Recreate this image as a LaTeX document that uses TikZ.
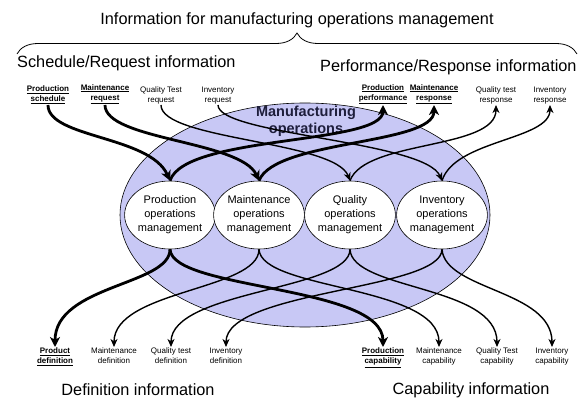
\documentclass[tikz,border=0pt]{standalone}
\usepackage{fontspec}
\setmainfont{Liberation Sans}
\usetikzlibrary{shapes.geometric,arrows.meta,decorations.pathreplacing}

\definecolor{mfgfill}{RGB}{200,200,245}
\definecolor{mfgtext}{RGB}{30,30,60}

\begin{document}
\begin{tikzpicture}[x=1pt,y=-1pt,
    big/.style={font=\fontsize{16.3}{18}\selectfont,inner sep=0pt},
    info/.style={font=\fontsize{8}{10}\selectfont,align=center,inner sep=1pt},
    func/.style={ellipse,draw,line width=0.6pt,fill=white,minimum width=82pt,minimum height=68pt,
      inner sep=0pt,align=center,font=\fontsize{11}{14}\selectfont},
    heavy/.style={line width=2.8pt,-{Stealth[length=10pt,width=10pt,inset=3pt]}},
    light/.style={line width=1.4pt,-{Stealth[length=8pt,width=7pt,inset=2.5pt]}}]
  \useasboundingbox (0,0) rectangle (579,404);

  % headings
  \node[big] (title) at (297,20) {Information for manufacturing operations management};
  \draw[line width=0.8pt,decorate,decoration={brace,amplitude=21pt}] (17,54) -- (577,54);
  \node[big,anchor=west] (schedinfo) at (17,63) {Schedule/Request information};
  \node[big,anchor=west] (perfinfo) at (320,67) {Performance/Response information};
  \node[big] (definfo) at (138,390) {Definition information};
  \node[big] (capinfo) at (471,390) {Capability information};

  % manufacturing operations
  \node[ellipse,draw,line width=0.6pt,fill=mfgfill,minimum width=370pt,minimum height=224pt,inner sep=0pt] (mfg) at (305,215) {};
  \node[font=\bfseries\fontsize{14.5}{17}\selectfont,text=mfgtext,align=center] (mfgname) at (306,121) {Manufacturing\\operations};

  \node[func] (pom) at (170,215) {Production\\operations\\management};
  \node[func] (mom) at (259,215) {Maintenance\\operations\\management};
  \node[func] (qom) at (350,215) {Quality\\operations\\management};
  \node[func] (iom) at (442,215) {Inventory\\operations\\management};

  % top labels
  \node[info,anchor=south] (psched) at (48,105) {\textbf{\underline{Production}}\\\textbf{\underline{schedule}}};
  \node[info,anchor=south] (mreq) at (105,105) {\textbf{\underline{Maintenance}}\\\textbf{\underline{request}}};
  \node[info,anchor=south] (qreq) at (161,105) {Quality Test\\request};
  \node[info,anchor=south] (ireq) at (218,105) {Inventory\\request};
  \node[info,anchor=south] (pperf) at (383,105) {\textbf{\underline{Production}}\\\textbf{\underline{performance}}};
  \node[info,anchor=south] (mresp) at (434,105) {\textbf{\underline{Maintenance}}\\\textbf{\underline{response}}};
  \node[info,anchor=south] (qresp) at (496,105) {Quality test\\response};
  \node[info,anchor=south] (iresp) at (550,105) {Inventory\\response};

  % bottom labels
  \node[info,anchor=north] (pdef) at (55,347) {\textbf{\underline{Product}}\\\textbf{\underline{definition}}};
  \node[info,anchor=north] (mdef) at (114,347) {Maintenance\\definition};
  \node[info,anchor=north] (qdef) at (171,347) {Quality test\\definition};
  \node[info,anchor=north] (idef) at (226,347) {Inventory\\definition};
  \node[info,anchor=north] (pcap) at (383,347) {\textbf{\underline{Production}}\\\textbf{\underline{capability}}};
  \node[info,anchor=north] (mcap) at (439,347) {Maintenance\\capability};
  \node[info,anchor=north] (qcap) at (497,347) {Quality Test\\capability};
  \node[info,anchor=north] (icap) at (552,347) {Inventory\\capability};

  % requests in
  \draw[heavy] (psched.south) .. controls +(0,33) and +(-20,-45) .. (pom.north);
  \draw[heavy] (mreq.south) .. controls +(0,35) and +(-18,-40) .. (mom.north);
  \draw[light] (qreq.south) .. controls +(0,35) and +(-15,-40) .. (qom.north);
  \draw[light] (ireq.south) .. controls +(0,30) and +(-17,-40) .. (iom.north);
  % responses out
  \draw[heavy] (pom.north) .. controls +(15,-46) and +(0,40) .. (pperf.south);
  \draw[heavy] (mom.north) .. controls +(16,-41) and +(0,40) .. (mresp.south);
  \draw[light] (qom.north) .. controls +(15,-41) and +(0,45) .. (qresp.south);
  \draw[light] (iom.north) .. controls +(13,-41) and +(0,35) .. (iresp.south);
  % definitions
  \draw[heavy] (pom.south) .. controls +(0,36) and +(0,-62) .. (pdef.north);
  \draw[light] (mom.south) .. controls +(0,41) and +(0,-57) .. (mdef.north);
  \draw[light] (qom.south) .. controls +(0,41) and +(0,-57) .. (qdef.north);
  \draw[light] (iom.south) .. controls +(0,41) and +(0,-57) .. (idef.north);
  % capabilities
  \draw[heavy] (pom.south) .. controls +(2,41) and +(0,-62) .. (pcap.north);
  \draw[light] (mom.south) .. controls +(2,41) and +(0,-62) .. (mcap.north);
  \draw[light] (qom.south) .. controls +(2,41) and +(0,-62) .. (qcap.north);
  \draw[light] (iom.south) .. controls +(3,41) and +(0,-57) .. (icap.north);
\end{tikzpicture}
\end{document}
